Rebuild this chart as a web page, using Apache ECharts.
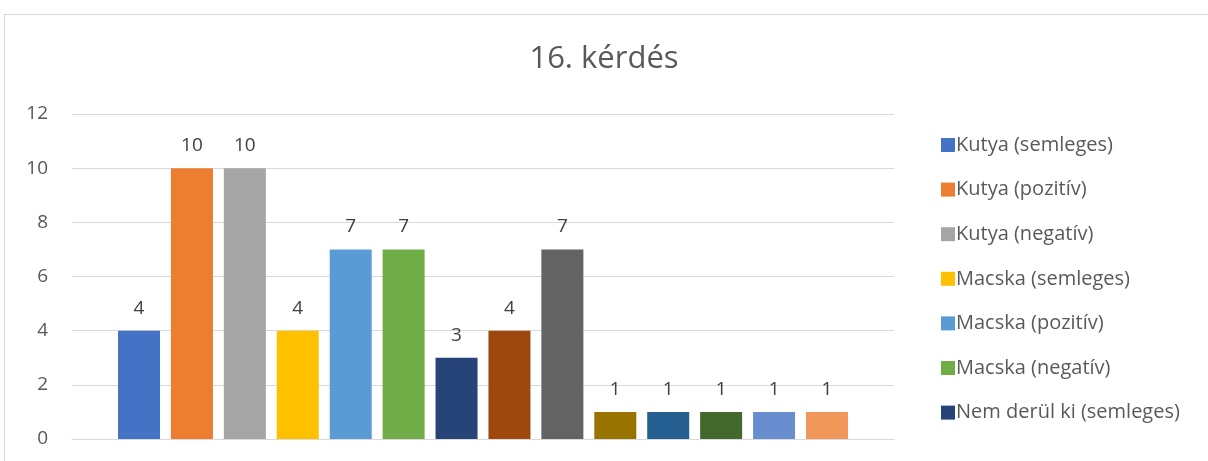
<!DOCTYPE html>
<html>
<head>
<meta charset="utf-8">
<script src="https://cdn.jsdelivr.net/npm/echarts@6/dist/echarts.min.js"></script>
<style>
  html, body { margin: 0; padding: 0; background: #fff; }
  #frame { position: absolute; left: 4px; top: 14px; width: 1300px; height: 500px; border: 1px solid #d9d9d9; box-sizing: border-box; }
  #chart { position: absolute; left: 0; top: 0; width: 1208px; height: 461px; }
</style>
</head>
<body>
<div id="frame"></div>
<div id="chart"></div>
<script>
// adatok
const seriesNames = [
  'Kutya (semleges)', 'Kutya (pozitív)', 'Kutya (negatív)',
  'Macska (semleges)', 'Macska (pozitív)', 'Macska (negatív)',
  'Nem derül ki (semleges)', 'Nem derül ki (pozitív)', 'Nem derül ki (negatív)',
  'Egyéb 1', 'Egyéb 2', 'Egyéb 3', 'Egyéb 4', 'Egyéb 5'
]
const seriesValues = [4, 10, 10, 4, 7, 7, 3, 4, 7, 1, 1, 1, 1, 1]
const colors = [
  '#4472C4', '#ED7D31', '#A5A5A5', '#FFC000', '#5B9BD5', '#70AD47', '#264478',
  '#9E480E', '#636363', '#997300', '#255E91', '#43682B', '#698ED0', '#F1975A'
]
const yTicks = [0, 2, 4, 6, 8, 10, 12]
const legendShown = seriesNames.slice(0, 7)

const font = '"Open Sans", sans-serif'
const chart = echarts.init(document.getElementById('chart'))

const option = {
  animation: false,
  title: {
    text: '16. kérdés',
    left: 'center',
    top: 39,
    textStyle: { fontFamily: font, fontSize: 31, fontWeight: 'normal', color: '#595959' }
  },
  legend: {
    orient: 'vertical',
    left: 936,
    top: 130,
    itemWidth: 14,
    itemHeight: 14,
    itemGap: 24.6,
    icon: 'rect',
    data: legendShown,
    textStyle: { fontFamily: font, fontSize: 20, color: '#595959', padding: [0, 0, 0, -4] }
  },
  grid: { left: 72, right: 314, top: 114, bottom: 22 },
  xAxis: {
    type: 'category',
    data: [''],
    axisLine: { lineStyle: { color: '#d9d9d9', width: 1 } },
    axisTick: { show: false },
    axisLabel: { show: false }
  },
  yAxis: {
    type: 'value',
    min: yTicks[0],
    max: yTicks[yTicks.length - 1],
    interval: 2,
    axisLine: { show: false },
    axisTick: { show: false },
    axisLabel: { fontFamily: font, fontSize: 19, color: '#595959', margin: 24 },
    splitLine: { lineStyle: { color: '#d9d9d9', width: 1 } }
  },
  series: seriesNames.map((name, i) => ({
    name: name,
    type: 'bar',
    data: [seriesValues[i]],
    barWidth: 42,
    barGap: '26%',
    itemStyle: { color: colors[i] },
    label: {
      show: true,
      position: 'top',
      distance: 13,
      fontFamily: font,
      fontSize: 19,
      color: '#404040'
    }
  }))
}

chart.setOption(option)
window.addEventListener('resize', () => chart.resize())
</script>
</body>
</html>
